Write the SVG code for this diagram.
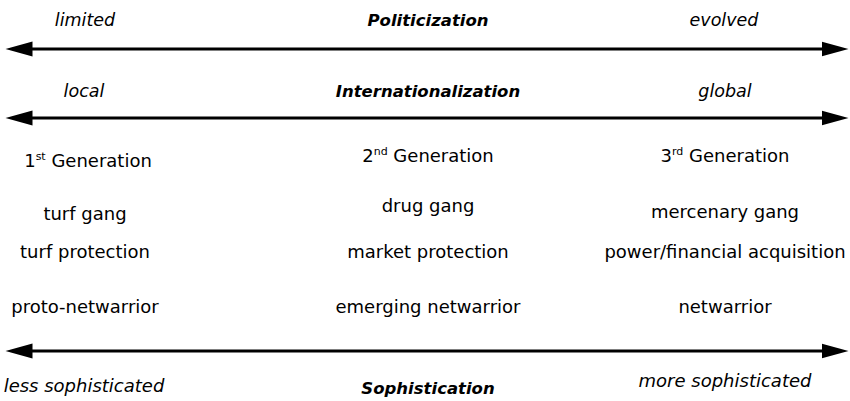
<svg xmlns="http://www.w3.org/2000/svg" width="850" height="401" viewBox="0 0 850 401">
<defs>
<marker id="ah" markerUnits="userSpaceOnUse" markerWidth="28" markerHeight="16" refX="0.5" refY="7.5" orient="auto-start-reverse" viewBox="0 0 28 15">
<path d="M0,0 L27,7.5 L0,15 z" fill="#000"/>
</marker>
<style>
.ax{stroke:#000;stroke-width:3;fill:none;marker-start:url(#ah);marker-end:url(#ah)}
text{font-family:"DejaVu Sans","Liberation Sans",sans-serif;fill:#000;text-anchor:middle}
.lbl{font-size:18px}
.end{font-size:17.5px;font-style:italic}
.endb{font-size:18px;font-style:italic}
.ttl{font-size:16.5px;font-style:italic;font-weight:bold}
.sup{font-size:11px}
</style>
</defs>
<rect width="850" height="401" fill="#fff"/>
<g id="connectors">
<path class="ax" d="M32,49 H822"/>
<path class="ax" d="M32,118 H822"/>
<path class="ax" d="M32,351 H822"/>
</g>
<g id="politicization">
<text class="end" x="85" y="26">limited</text>
<text class="ttl" x="428" y="26">Politicization</text>
<text class="end" x="724" y="26">evolved</text>
</g>
<g id="internationalization">
<text class="end" x="84" y="97">local</text>
<text class="ttl" x="428" y="97">Internationalization</text>
<text class="end" x="725" y="97">global</text>
</g>
<g id="gen1">
<text class="lbl" x="88" y="167">1<tspan class="sup" dy="-7">st</tspan><tspan dy="7"> Generation</tspan></text>
<text class="lbl" x="85" y="220">turf gang</text>
<text class="lbl" x="85" y="258">turf protection</text>
<text class="lbl" x="85" y="313">proto-netwarrior</text>
</g>
<g id="gen2">
<text class="lbl" x="428" y="162">2<tspan class="sup" dy="-7">nd</tspan><tspan dy="7"> Generation</tspan></text>
<text class="lbl" x="428" y="212">drug gang</text>
<text class="lbl" x="428" y="258">market protection</text>
<text class="lbl" x="428" y="313">emerging netwarrior</text>
</g>
<g id="gen3">
<text class="lbl" x="725" y="162">3<tspan class="sup" dy="-7">rd</tspan><tspan dy="7"> Generation</tspan></text>
<text class="lbl" x="725" y="218">mercenary gang</text>
<text class="lbl" x="725" y="258">power/financial acquisition</text>
<text class="lbl" x="725" y="313">netwarrior</text>
</g>
<g id="sophistication">
<text class="endb" x="84" y="392">less sophisticated</text>
<text class="ttl" x="428" y="394">Sophistication</text>
<text class="endb" x="725" y="387">more sophisticated</text>
</g>
</svg>
